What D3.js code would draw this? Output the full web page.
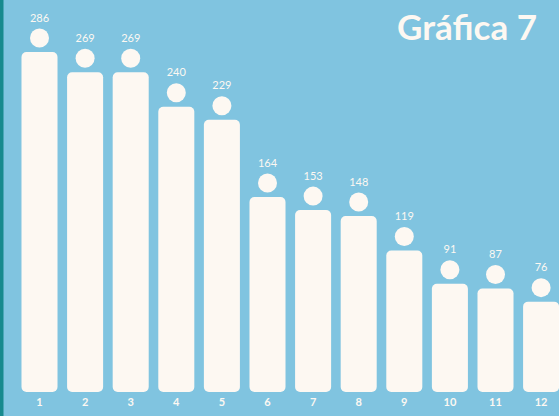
<!DOCTYPE html>
<html>
<head>
<meta charset="utf-8">
<script src="https://cdn.jsdelivr.net/npm/d3@7"></script>
<style>
  body { margin: 0; padding: 0; overflow: hidden; }
</style>
</head>
<body>
<div id="chart"></div>
<script>
// data
const categories = ["1", "2", "3", "4", "5", "6", "7", "8", "9", "10", "11", "12"];
const values = [286, 269, 269, 240, 229, 164, 153, 148, 119, 91, 87, 76];
const chartTitle = "Gráfica 7";

const width = 559;
const height = 416;
const colors = {
    background: "#80c4e0",
    border: "#178a8e",
    bar: "#fdf8f2",
    text: "#fdf8f2",
};

const svg = d3
    .select("#chart")
    .append("svg")
    .attr("width", width)
    .attr("height", height);

svg.append("rect")
    .attr("width", width)
    .attr("height", height)
    .attr("fill", colors.background);

// teal strip on the left edge
svg.append("rect")
    .attr("x", 0)
    .attr("y", 0)
    .attr("width", 3.5)
    .attr("height", height)
    .attr("fill", colors.border);

const x = d3
    .scaleBand()
    .domain(categories)
    .range([16.7, 563.9])
    .paddingInner(0.21)
    .paddingOuter(0.105);

const y = d3.scaleLinear().domain([0, 286]).range([392, 52]);

const bars = svg
    .append("g")
    .selectAll("g")
    .data(values)
    .enter()
    .append("g");

bars.append("rect")
    .attr("x", (d, i) => x(categories[i]))
    .attr("y", (d) => y(d))
    .attr("width", x.bandwidth())
    .attr("height", (d) => y(0) - y(d))
    .attr("rx", 5)
    .attr("fill", colors.bar);

bars.append("circle")
    .attr("cx", (d, i) => x(categories[i]) + x.bandwidth() / 2)
    .attr("cy", (d) => y(d) - 14)
    .attr("r", 9.5)
    .attr("fill", colors.bar);

bars.append("text")
    .attr("x", (d, i) => x(categories[i]) + x.bandwidth() / 2)
    .attr("y", (d) => y(d) - 30.5)
    .attr("text-anchor", "middle")
    .style("font-family", "Lato, 'Open Sans', sans-serif")
    .style("font-size", "11px")
    .attr("fill", colors.text)
    .text((d) => d);

// category labels
svg.append("g")
    .selectAll("text")
    .data(categories)
    .enter()
    .append("text")
    .attr("x", (d) => x(d) + x.bandwidth() / 2)
    .attr("y", 406)
    .attr("text-anchor", "middle")
    .style("font-family", "Lato, 'Open Sans', sans-serif")
    .style("font-size", "11px")
    .style("font-weight", "bold")
    .attr("fill", colors.text)
    .text((d) => d);

svg.append("text")
    .attr("x", 537)
    .attr("y", 40)
    .attr("text-anchor", "end")
    .style("font-family", "Lato, 'Open Sans', sans-serif")
    .style("font-size", "35px")
    .style("font-weight", "bold")
    .attr("fill", colors.text)
    .text(chartTitle);
</script>
</body>
</html>
